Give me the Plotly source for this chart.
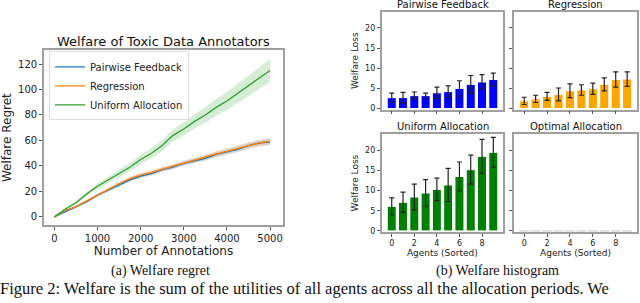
import plotly.graph_objects as go

# ---------------- data ----------------
annotations = [0, 250, 500, 750, 1000, 1250, 1500, 1750, 2000, 2250, 2500,
               2750, 3000, 3250, 3500, 3750, 4000, 4250, 4500, 4750, 5000]
pairwise_mean = [0, 4, 7.5, 12, 17, 21, 25, 29, 32, 34, 37, 39, 42, 44, 46, 49, 51, 53, 56, 58, 59]
pairwise_std = [0, 0.6, 0.9, 1.0, 1.2, 1.3, 1.4, 1.5, 1.6, 1.7, 1.8, 1.8, 1.9, 2.0, 2.0, 2.1, 2.2, 2.3, 2.3, 2.4, 2.5]
regression_mean = [0, 5, 8, 12.5, 17.5, 22, 26, 30, 33, 35, 37.5, 40, 42.5, 44.5, 47, 49.5, 51.5, 54, 56, 58, 59.5]
regression_std = [0, 0.7, 1.0, 1.1, 1.3, 1.4, 1.5, 1.6, 1.7, 1.8, 1.9, 1.9, 2.0, 2.1, 2.1, 2.2, 2.3, 2.4, 2.4, 2.5, 2.6]
uniform_mean = [0, 6, 11, 18, 24, 29, 34, 39, 45, 50, 56, 64, 69, 75, 80, 86, 91, 97, 103, 109, 115]
uniform_std = [0, 0.8, 1.2, 1.8, 2.2, 2.6, 3.0, 3.3, 3.6, 4.0, 4.4, 4.8, 5.2, 5.6, 6.0, 6.5, 7.0, 7.5, 8.0, 8.5, 9.0]

agents = list(range(10))
pf_loss = [2.7, 2.7, 3.2, 3.2, 3.9, 4.2, 5.0, 6.0, 6.6, 7.2]
pf_err = [1.1, 1.3, 0.9, 0.6, 1.4, 1.4, 1.9, 2.2, 1.8, 1.6]
reg_loss = [1.9, 2.4, 3.0, 3.5, 4.4, 4.6, 4.9, 6.0, 7.2, 7.3]
reg_err = [0.9, 0.9, 1.0, 1.6, 1.7, 1.3, 1.4, 1.6, 1.9, 1.8]
uni_loss = [6.1, 7.1, 8.4, 9.4, 10.3, 11.4, 13.5, 15.2, 18.5, 19.5]
uni_err = [2.1, 2.5, 3.2, 3.3, 2.8, 4.1, 3.6, 3.6, 4.2, 3.7]
opt_loss = [0, 0, 0, 0, 0, 0, 0, 0, 0, 0]

W, H = 640, 303
FONT = "DejaVu Sans"

def px_x(a, b):
    return [a / W, b / W]

def px_y(top, bottom):
    return [1 - bottom / H, 1 - top / H]

fig = go.Figure()

# ---------------- left line chart ----------------
def band(x, m, s, fill):
    upper = [a + b for a, b in zip(m, s)]
    lower = [a - b for a, b in zip(m, s)]
    fig.add_trace(go.Scatter(x=x + x[::-1], y=upper + lower[::-1], fill="toself",
                             fillcolor=fill, line=dict(width=0), hoverinfo="skip",
                             showlegend=False, xaxis="x", yaxis="y"))

band(annotations, uniform_mean, uniform_std, "rgba(44,160,44,0.2)")
band(annotations, pairwise_mean, pairwise_std, "rgba(31,119,180,0.2)")
band(annotations, regression_mean, regression_std, "rgba(255,127,14,0.2)")

fig.add_trace(go.Scatter(x=annotations, y=pairwise_mean, mode="lines", name="Pairwise Feedback",
                         line=dict(color="#1f77b4", width=1.3), xaxis="x", yaxis="y"))
fig.add_trace(go.Scatter(x=annotations, y=regression_mean, mode="lines", name="Regression",
                         line=dict(color="#ff7f0e", width=1.3), xaxis="x", yaxis="y"))
fig.add_trace(go.Scatter(x=annotations, y=uniform_mean, mode="lines", name="Uniform Allocation",
                         line=dict(color="#2ca02c", width=1.3), xaxis="x", yaxis="y"))

# ---------------- bar panels ----------------
def bars(vals, errs, color, ax):
    fig.add_trace(go.Bar(x=agents, y=vals, width=0.8, marker=dict(color=color, line=dict(color="white", width=1)),
                         error_y=dict(type="data", array=errs, color="#222", thickness=1.2, width=2.5),
                         showlegend=False, xaxis="x" + ax, yaxis="y" + ax))

bars(pf_loss, pf_err, "#0000ff", "2")
bars(reg_loss, reg_err, "#ffa500", "3")
bars(uni_loss, uni_err, "#008000", "4")
fig.add_trace(go.Scatter(x=agents, y=opt_loss, mode="markers",
                         marker=dict(symbol="line-ew", size=7, line=dict(color="#d8d8d8", width=1.5)),
                         showlegend=False, xaxis="x5", yaxis="y5"))

tickfont_small = dict(family=FONT, size=8, color="#222")
line_style = dict(showline=True, linecolor="#a0a0a0", linewidth=1.6, mirror=True,
                  showgrid=False, zeroline=False, ticks="outside", ticklen=3, tickcolor="#555")

layout = dict(
    width=W, height=H, margin=dict(l=0, r=0, t=0, b=0),
    paper_bgcolor="white", plot_bgcolor="white",
    font=dict(family=FONT, color="#222"),
    showlegend=True,
    legend=dict(x=49 / W, y=1 - 52 / H, xanchor="left", yanchor="top",
                bgcolor="rgba(255,255,255,0.8)", bordercolor="#ddd", borderwidth=1,
                font=dict(family=FONT, size=10), tracegroupgap=0, itemwidth=30),
    xaxis=dict(domain=px_x(44, 283), anchor="y", range=[-240, 5300],
               tickvals=[0, 1000, 2000, 3000, 4000, 5000], tickfont=dict(family=FONT, size=10),
               title=dict(text="Number of Annotations", font=dict(family=FONT, size=12), standoff=1),
               **line_style),
    yaxis=dict(domain=px_y(51, 228), anchor="x", range=[-6.4, 130.8],
               tickvals=[0, 20, 40, 60, 80, 100, 120], tickfont=dict(family=FONT, size=10),
               title=dict(text="Welfare Regret", font=dict(family=FONT, size=12), standoff=4),
               **line_style),
)

bar_xr = [-0.89, 9.86]
bar_yr = [-0.25, 24]
panels = {
    "2": (381.7, 503, 12, 111, False, True),
    "3": (514, 637, 12, 111, False, False),
    "4": (381.7, 503, 136, 235, True, True),
    "5": (514, 637, 136, 235, True, False),
}
for ax, (l, r, t, b, xlab, ylab) in panels.items():
    xa = dict(domain=px_x(l, r), anchor="y" + ax, range=bar_xr, tickvals=[0, 2, 4, 6, 8],
              showticklabels=xlab, tickfont=tickfont_small, **line_style)
    ya = dict(domain=px_y(t, b), anchor="x" + ax, range=bar_yr, tickvals=[0, 5, 10, 15, 20],
              showticklabels=ylab, tickfont=tickfont_small, **line_style)
    if xlab:
        xa["title"] = dict(text="Agents (Sorted)", font=dict(family=FONT, size=9), standoff=0)
    if ylab:
        ya["title"] = dict(text="Welfare Loss", font=dict(family=FONT, size=9), standoff=5)
    layout["xaxis" + ax] = xa
    layout["yaxis" + ax] = ya

annots = [
    dict(text="Welfare of Toxic Data Annotators", x=163 / W, y=1 - 42.5 / H, size=13, family=FONT),
    dict(text="Pairwise Feedback", x=442.5 / W, y=1 - 5 / H, size=10, family=FONT),
    dict(text="Regression", x=575.5 / W, y=1 - 5 / H, size=10, family=FONT),
    dict(text="Uniform Allocation", x=442.5 / W, y=1 - 128.5 / H, size=10, family=FONT),
    dict(text="Optimal Allocation", x=575.5 / W, y=1 - 128.5 / H, size=10, family=FONT),
    dict(text="(a) Welfare regret", x=160 / W, y=1 - 275 / H, size=14, family="Liberation Serif"),
    dict(text="(b) Welfare histogram", x=497 / W, y=1 - 275 / H, size=14, family="Liberation Serif"),
]
layout["annotations"] = [
    dict(text=a["text"], x=a["x"], y=a["y"], xref="paper", yref="paper", showarrow=False,
         xanchor="center", yanchor="middle", borderpad=0,
         font=dict(family=a["family"], size=a["size"], color="#111"))
    for a in annots
] + [
    dict(text="Figure 2: Welfare is the sum of the utilities of all agents across all the allocation periods. We",
         x=-1 / W, y=0, xref="paper", yref="paper", showarrow=False, xanchor="left", yanchor="bottom",
         borderpad=0, font=dict(family="Liberation Serif", size=16.5, color="#111"))
]

fig.update_layout(**layout)
fig.write_html("out.html", config={"displayModeBar": False},
               post_script="document.body.style.margin='0';document.body.style.overflow='hidden';")
